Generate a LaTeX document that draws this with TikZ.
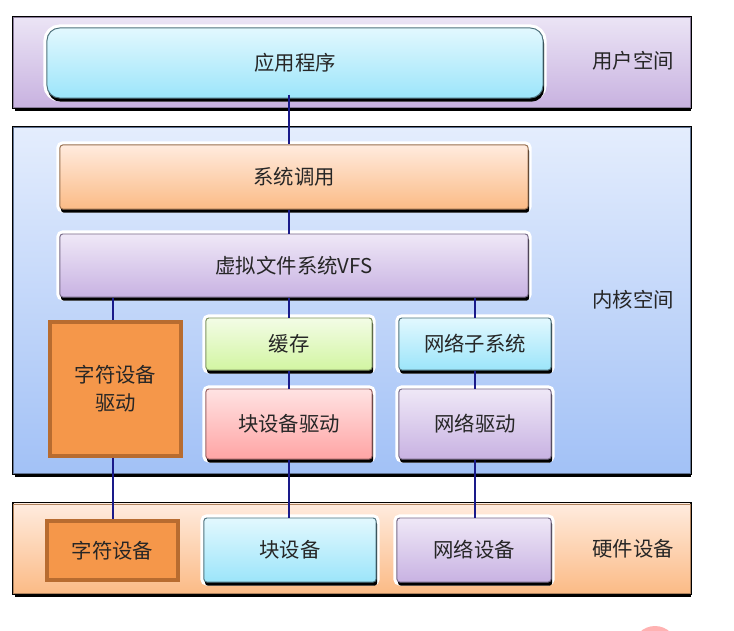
\documentclass[tikz,border=0pt]{standalone}
\usepackage{fontspec}
\newfontfamily\cjk{Noto Sans CJK SC}
\usetikzlibrary{shadows}

\definecolor{userT}{HTML}{EBE4F5}
\definecolor{userB}{HTML}{C8B2E0}
\definecolor{cyanT}{HTML}{E2F8FE}
\definecolor{cyanB}{HTML}{9CE5FA}
\definecolor{kernT}{HTML}{E4EDFD}
\definecolor{kernB}{HTML}{A2C1F6}
\definecolor{orT}{HTML}{FFEBDE}
\definecolor{orB}{HTML}{FBBB86}
\definecolor{lavT}{HTML}{EFE8F7}
\definecolor{lavB}{HTML}{C8B2E2}
\definecolor{grT}{HTML}{F3FCE6}
\definecolor{grB}{HTML}{D2F5A2}
\definecolor{pkT}{HTML}{FFE3E3}
\definecolor{pkB}{HTML}{FFA4A4}
\definecolor{chr}{HTML}{F5974A}
\definecolor{chrB}{HTML}{B86C30}
\definecolor{wire}{HTML}{1A1A8A}

\begin{document}
\begin{tikzpicture}[x=0.025cm, y=-0.025cm,
	txt/.style={font=\cjk\fontsize{14.5}{17}\selectfont, text=black!85},
	layer/.style={txt, inner sep=0, line width=0.7pt, minimum width=16.9cm, preaction={draw=black, line width=2.4pt},
		drop shadow={shadow xshift=0.6pt, shadow yshift=-2.6pt, fill=black, opacity=1}},
	box/.style={txt, inner sep=0, line width=0.7pt, rounded corners=2pt,
		preaction={draw=white, fill=white, line width=5pt, sharp corners},
		drop shadow={shadow xshift=0.8pt, shadow yshift=-2.6pt, fill=black, opacity=1}},
	cyanbox/.style={box, draw=cyanB!50!black, top color=cyanT, bottom color=cyanB},
	lavbox/.style={box, draw=lavB!60!black, top color=lavT, bottom color=lavB},
	flat/.style={txt, inner sep=0, fill=chr, draw=chrB, line width=2.6pt},
	side/.style={txt},
	wire/.style={draw=wire, line width=1.1pt}]
	\clip (0,0) rectangle (734,630);

	% layers
	\node[layer, draw=userB!70!black, top color=userT, bottom color=userB, minimum height=2.225cm] (user) at (352,62.5) {};
	\node[layer, draw=kernB!60!black, top color=kernT, bottom color=kernB, minimum height=8.625cm] (kern) at (352,300.5) {};
	\node[layer, draw=orB!70!black, top color=orT, bottom color=orB, minimum height=2.225cm] (hw) at (352,548.5) {};

	\node[side] (lu) at (633,61) {用户空间};
	\node[side] (lk) at (633,300) {内核空间};
	\node[side] (lh) at (633,549) {硬件设备};

	% kernel parts
	\node[cyanbox, rounded corners=9pt, minimum width=12.4cm, minimum height=1.75cm] (app) at (295,63) {应用程序};
	\node[box, draw=orB!60!black, top color=orT, bottom color=orB, minimum width=11.7cm, minimum height=1.6cm] (sys) at (294,177) {系统调用};
	\node[lavbox, minimum width=11.7cm, minimum height=1.575cm] (vfs) at (294,265.5) {虚拟文件系统VFS};
	\node[flat, minimum width=3.275cm, minimum height=3.35cm, align=center] (chrdrv) at (115.5,389) {字符设备\\[3pt]驱动};
	\node[box, draw=grB!60!black, top color=grT, bottom color=grB, minimum width=4.15cm, minimum height=1.3cm] (cache) at (289,344) {缓存};
	\node[box, draw=pkB!60!black, top color=pkT, bottom color=pkB, minimum width=4.15cm, minimum height=1.75cm] (blkdrv) at (289,424) {块设备驱动};
	\node[cyanbox, minimum width=3.8cm, minimum height=1.3cm] (netsub) at (475,344) {网络子系统};
	\node[lavbox, minimum width=3.8cm, minimum height=1.75cm] (netdrv) at (475,424) {网络驱动};

	% devices
	\node[flat, line width=2.2pt, minimum width=3.275cm, minimum height=1.475cm] (chrdev) at (112.5,550.5) {字符设备};
	\node[cyanbox, minimum width=4.3cm, minimum height=1.6cm] (blkdev) at (290,550) {块设备};
	\node[lavbox, minimum width=3.85cm, minimum height=1.6cm] (netdev) at (474,550) {网络设备};

	% wires
	\draw[wire] (app.south -| cache) ++(0,-4) -- (sys.north -| cache);
	\draw[wire] (sys.south -| cache) -- (vfs.north -| cache);
	\draw[wire] (vfs.south -| cache) -- (cache.north);
	\draw[wire] (cache.south) -- (blkdrv.north);
	\draw[wire] (blkdrv.south) -- (blkdev.north -| blkdrv);
	\draw[wire] (vfs.south -| 113,0) -- (chrdrv.north -| 113,0);
	\draw[wire] (chrdrv.south -| 113,0) -- (chrdev.north -| 113,0);
	\draw[wire] (vfs.south -| netsub) -- (netsub.north);
	\draw[wire] (netsub.south) -- (netdrv.north);
	\draw[wire] (netdrv.south) -- (netdev.north -| netdrv);

	% stray mark
	\fill[red!30] (655,648) circle (22);
\end{tikzpicture}
\end{document}
